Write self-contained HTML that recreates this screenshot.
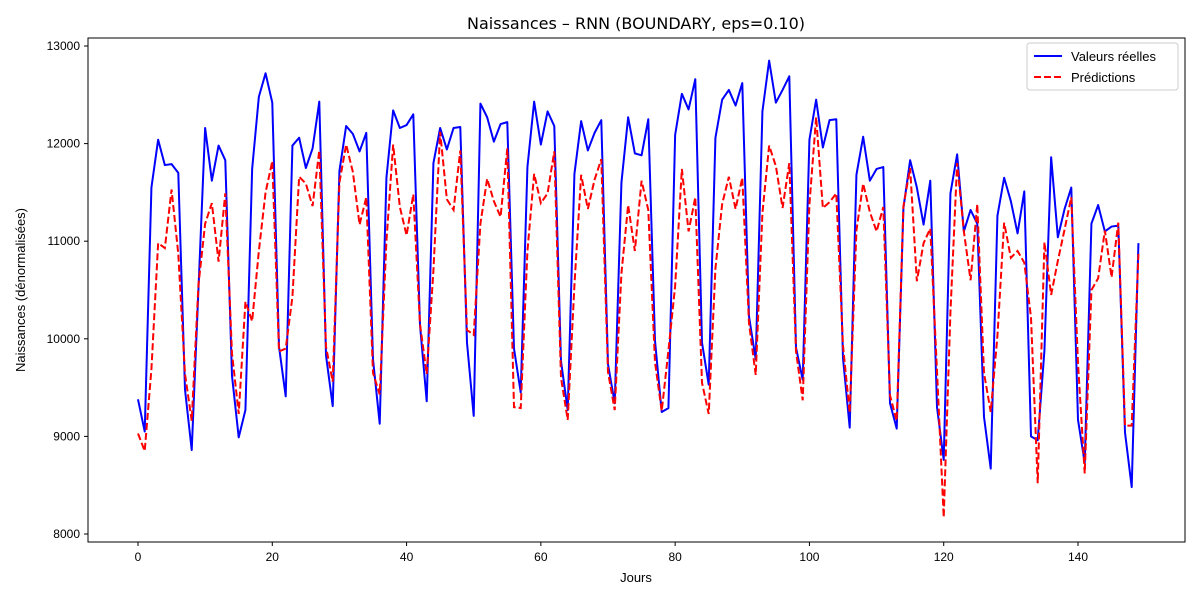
<!DOCTYPE html>
<html><head><meta charset="utf-8"><style>
body{margin:0;background:#fff;}
svg{font-family:"Liberation Sans","DejaVu Sans",sans-serif;}
</style></head><body>
<svg id="chart" width="1200" height="600">
<rect x="0" y="0" width="1200" height="600" fill="#fff"/>
<text x="636" y="29" text-anchor="middle" font-size="16" style="font-family:'DejaVu Sans',sans-serif">Naissances – RNN (BOUNDARY, eps=0.10)</text>
<g id="ticks"></g>
<g id="series"></g>
<rect x="88" y="38" width="1097" height="504" fill="none" stroke="#000" stroke-width="1"/>
<text x="636" y="582" text-anchor="middle" font-size="13">Jours</text>
<text transform="translate(25,290) rotate(-90)" text-anchor="middle" font-size="13">Naissances (dénormalisées)</text>
<g>
<rect x="1027" y="43" width="151" height="47" rx="3" fill="#fff" fill-opacity="0.8" stroke="#ccc"/>
<line x1="1034" y1="56" x2="1062" y2="56" stroke="#0000ff" stroke-width="2"/>
<text x="1071" y="61" font-size="13">Valeurs réelles</text>
<line x1="1034" y1="77" x2="1062" y2="77" stroke="#ff0000" stroke-width="2" stroke-dasharray="7,3"/>
<text x="1071" y="82" font-size="13">Prédictions</text>
</g>
</svg>
<script>
const actual=[9380,9050,11550,12040,11780,11790,11700,9480,8860,10500,12160,11620,11980,11830,9620,8990,9270,11740,12480,12720,12420,9920,9410,11980,12060,11750,11950,12430,9830,9310,11720,12180,12100,11920,12110,9790,9130,11650,12340,12160,12190,12300,10140,9360,11800,12160,11940,12160,12170,9960,9210,12410,12270,12020,12200,12220,9900,9450,11760,12430,11990,12330,12180,9770,9270,11690,12230,11930,12110,12240,9740,9340,11600,12270,11900,11880,12250,9980,9250,9290,12090,12510,12350,12660,9960,9530,12060,12450,12550,12390,12620,10230,9790,12330,12850,12420,12550,12690,9910,9580,12040,12450,11960,12240,12250,9800,9090,11680,12070,11620,11740,11760,9340,9080,11340,11830,11550,11170,11620,9300,8760,11490,11890,11100,11320,11180,9200,8670,11260,11650,11410,11080,11510,9000,8960,9880,11860,11040,11330,11550,9170,8730,11180,11370,11100,11150,11160,9040,8480,10980];
const predicted=[9030,8850,9690,10980,10930,11530,10870,9640,9160,10550,11180,11390,10790,11490,9850,9230,10380,10180,10900,11500,11820,9870,9900,10430,11660,11590,11360,11930,9920,9560,11600,11990,11710,11170,11450,9650,9430,11000,11990,11350,11060,11480,10150,9640,10700,12120,11430,11320,11930,10090,10040,11180,11640,11410,11250,11950,9300,9290,10900,11690,11390,11490,11920,9600,9170,10550,11680,11330,11630,11840,9660,9270,10670,11370,10900,11620,11320,9760,9260,9880,10540,11740,11100,11450,9550,9230,10720,11380,11660,11330,11650,10160,9630,11290,11980,11770,11340,11800,9870,9370,11380,12270,11340,11400,11490,9930,9240,11110,11590,11300,11100,11350,9420,9160,11360,11750,10590,10980,11130,9670,8170,10270,11800,11100,10600,11380,9650,9250,10030,11190,10830,10900,10780,10220,8520,10990,10450,10800,11120,11450,9750,8620,10500,10620,11110,10630,11190,9110,9110,10870];
const xTicks=[0,20,40,60,80,100,120,140];
const yTicks=[8000,9000,10000,11000,12000,13000];
const NS='http://www.w3.org/2000/svg';
const xs=i=>138+i*(1078-138)/140;
const ys=v=>534-(v-8000)*(534-46)/5000;
const tg=document.getElementById('ticks');
function mk(tag,attrs,parent){const e=document.createElementNS(NS,tag);for(const k in attrs)e.setAttribute(k,attrs[k]);parent.appendChild(e);return e;}
xTicks.forEach(t=>{
 const l=mk('line',{x1:xs(t),x2:xs(t),y1:542,y2:546,stroke:'#000'},tg);
 
 
 const tx=mk('text',{x:xs(t),y:561,'text-anchor':'middle','font-size':12},tg);tx.textContent=t;
 
 
});
yTicks.forEach(t=>{
 const l=mk('line',{x1:84,x2:88,y1:ys(t),y2:ys(t),stroke:'#000'},tg);
 
 
 const tx=mk('text',{x:80,y:ys(t)+4,'text-anchor':'end','font-size':12},tg);tx.textContent=t;
 
 
});
const sg=document.getElementById('series');
const pa=mk('polyline',{points:actual.map((v,i)=>xs(i)+','+ys(v)).join(' '),fill:'none',stroke:'#0000ff','stroke-width':2,'stroke-linejoin':'round'},sg);


const pp=mk('polyline',{points:predicted.map((v,i)=>xs(i)+','+ys(v)).join(' '),fill:'none',stroke:'#ff0000','stroke-width':2,'stroke-dasharray':'7,3'},sg);


</script>
</body></html>
